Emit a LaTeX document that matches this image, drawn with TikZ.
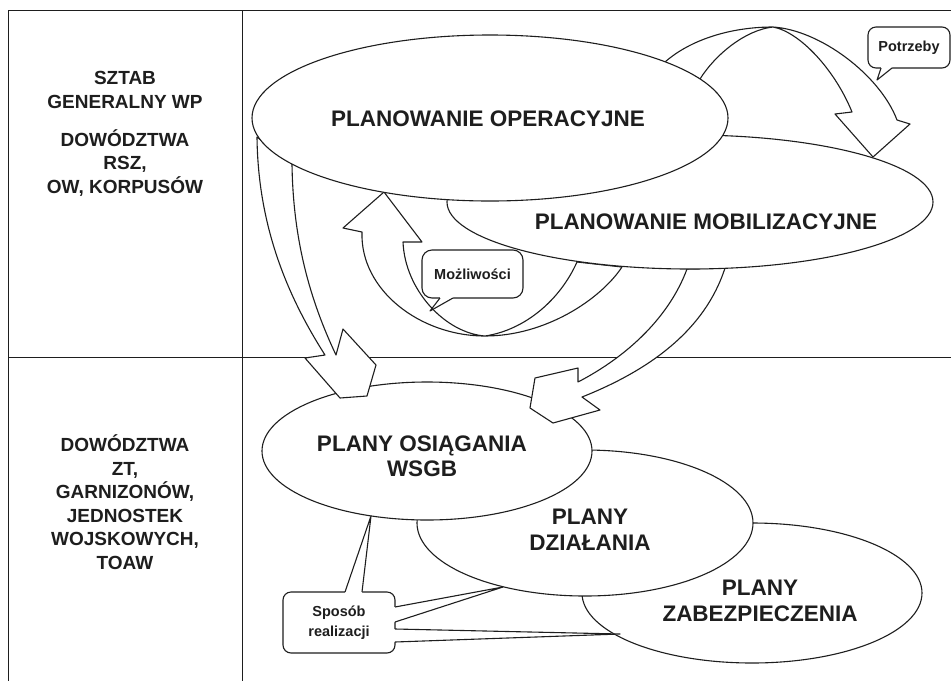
\documentclass[tikz,border=0pt]{standalone}
\usepackage{fontspec}
\setmainfont{Liberation Sans}
\usetikzlibrary{shapes.geometric,calc}
\definecolor{ink}{HTML}{1E1E1E}
\begin{document}
\begin{tikzpicture}[x=1pt,y=-1pt,
  color=ink, line width=1.1pt, line join=round,
  every node/.style={inner sep=0pt, outer sep=0pt},
  oval/.style={ellipse, draw=ink, fill=white},
  bigtext/.style={font=\fontsize{22.5}{25.5}\selectfont\bfseries, align=center},
  sidetext/.style={font=\fontsize{19}{23.5}\selectfont\bfseries, align=center},
  tagtext/.style={font=\fontsize{14.5}{20}\selectfont\bfseries, align=center},
  bubble/.style={draw=ink, fill=white, rounded corners=8pt},
  blockarrow/.style={draw=ink, fill=white},
  rule/.style={draw=ink, line width=1pt}]

\useasboundingbox (0,0) rectangle (951,681);
\fill[white] (0,0) rectangle (951,681);

% table frame
\draw[rule] (951,10) -- (8,10) -- (8,681);
\draw[rule] (242,10) -- (242,681);
\draw[rule] (8,357) -- (951,357);

% command levels
\node[sidetext] (hq1) at (125,90) {SZTAB\\GENERALNY WP};
\node[sidetext] (hq2) at (125,163) {DOWÓDZTWA\\RSZ,\\OW, KORPUSÓW};
\node[sidetext] (units) at (125,502) {DOWÓDZTWA\\ZT,\\GARNIZONÓW,\\JEDNOSTEK\\WOJSKOWYCH,\\TOAW};

% lower level plans (back to front)
\node[oval, minimum width=340pt, minimum height=140pt] (zab) at (752,593) {};
\node[oval, minimum width=336pt, minimum height=146pt] (dzi) at (585,523) {};
\node[oval, minimum width=330pt, minimum height=138pt] (osi) at (427,451) {};
\node[bigtext] (zabT) at (760,601) {PLANY\\ZABEZPIECZENIA};
\node[bigtext] (dziT) at (590,530) {PLANY\\DZIAŁANIA};
\node[bigtext] (osiT) at (422,456) {PLANY OSIĄGANIA\\WSGB};

% "Możliwości": mobilisation -> operational
\draw[blockarrow] (384,192) -- (343,228) -- (362,232)
  .. controls (360,290) and (420,336) .. (485,336)
  .. controls (545,336) and (600,300) .. (622,267)
  -- (577,262)
  .. controls (560,300) and (525,330) .. (485,336)
  .. controls (445,333) and (405,290) .. (403,242)
  -- (422,242) -- cycle;

% operational -> plans of reaching WSGB
\draw[blockarrow] (257,137)
  .. controls (258,230) and (290,300) .. (325,355)
  -- (305,358) -- (340,398) -- (367,396) -- (376,365) -- (343,329) -- (336,355)
  .. controls (310,300) and (293,240) .. (292,164) -- cycle;

% mobilisation -> plans of reaching WSGB
\draw[blockarrow] (687,269)
  .. controls (670,315) and (630,355) .. (578,382)
  -- (578,368) -- (535,378) -- (530,408) -- (553,423) -- (600,410) -- (582,397)
  .. controls (650,370) and (705,330) .. (725,268) -- cycle;

% upper level plans
\node[oval, minimum width=486pt, minimum height=134pt] (mob) at (690,202) {};

% "Potrzeby": operational -> mobilisation
\draw[blockarrow] (665,62)
  .. controls (690,40) and (730,27) .. (773,27)
  .. controls (820,30) and (880,75) .. (897,120)
  -- (910,124) -- (873,157) -- (835,114) -- (852,112)
  .. controls (835,70) and (800,32) .. (773,27)
  .. controls (745,30) and (715,55) .. (700,79) -- cycle;

\node[oval, minimum width=476pt, minimum height=166pt] (op) at (490,118) {};
\node[bigtext] (opT) at (488,119) {PLANOWANIE OPERACYJNE};
\node[bigtext] (mobT) at (706,222) {PLANOWANIE MOBILIZACYJNE};

% callouts
\node[bubble, minimum width=82pt, minimum height=41pt, tagtext] (potrz) at (909,47.5) {Potrzeby};
\coordinate (potrzTip) at (877,80);
\fill[white] (881,67) -- (881,68) -- (potrzTip) -- (892,68) -- (892,67) -- cycle;
\draw (881,68) -- (potrzTip) -- (892,68);

\node[bubble, rounded corners=10pt, minimum width=101pt, minimum height=48pt, tagtext] (mozl) at (472.5,274) {Możliwości};
\coordinate (mozlTip) at (430,311);
\fill[white] (440,297) -- (440,298) -- (mozlTip) -- (453,298) -- (453,297) -- cycle;
\draw (440,298) -- (mozlTip) -- (453,298);

\node[bubble, minimum width=112pt, minimum height=61pt, tagtext] (spos) at (339,622.5) {Sposób\\realizacji};
\coordinate (sposTipA) at (371,516);
\coordinate (sposTipB) at (503,587);
\coordinate (sposTipC) at (620,634);
\fill[white] (345,593) -- (345,592) -- (sposTipA) -- (362,592) -- (362,593) -- cycle;
\draw (345,592) -- (sposTipA) -- (362,592);
\fill[white] (394,607) -- (395,607) -- (sposTipB) -- (395,622) -- (394,622) -- cycle;
\draw (395,607) -- (sposTipB) -- (395,622);
\fill[white] (394,629) -- (395,629) -- (sposTipC) -- (395,642) -- (394,642) -- cycle;
\draw (395,629) -- (sposTipC) -- (395,642);

\end{tikzpicture}
\end{document}
